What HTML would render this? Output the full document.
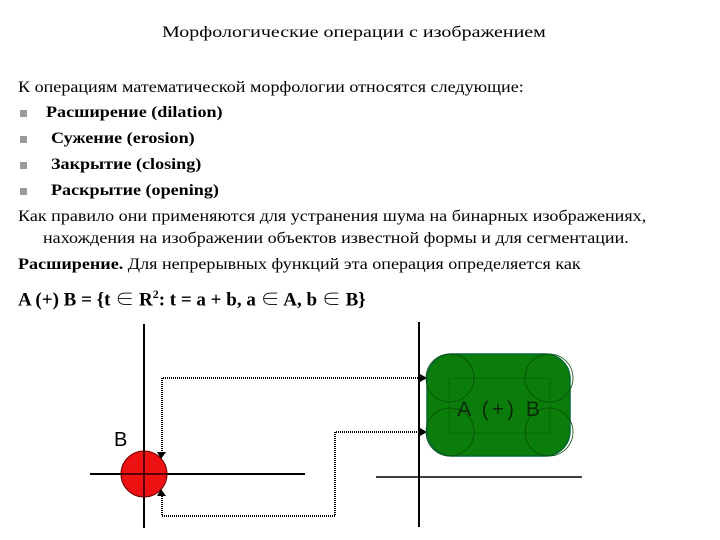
<!DOCTYPE html>
<html><head><meta charset="utf-8"><style>
body{margin:0;width:720px;height:540px;background:#fff;position:relative;overflow:hidden;font-family:"Liberation Serif","Noto Serif CJK SC",serif;color:#000}
.t{position:absolute;white-space:nowrap;font-size:16px;line-height:18px;transform:scaleX(1.13);transform-origin:0 0}
.b{font-weight:bold}
.sq{position:absolute;width:7px;height:7px;background:#9a9a9a}
</style></head><body>
<div class="t" style="left:162px;top:24px;transform:scaleX(1.25)">Морфологические операции с изображением</div>
<div class="t" style="left:18px;top:79px">К операциям математической морфологии относятся следующие:</div>
<div class="sq" style="left:20px;top:110px"></div><div class="t b" style="left:46px;top:104px">Расширение (dilation)</div>
<div class="sq" style="left:20px;top:136px"></div><div class="t b" style="left:51px;top:130px">Сужение (erosion)</div>
<div class="sq" style="left:20px;top:162px"></div><div class="t b" style="left:51px;top:156px">Закрытие (closing)</div>
<div class="sq" style="left:20px;top:188px"></div><div class="t b" style="left:51px;top:182px">Раскрытие (opening)</div>
<div class="t" style="left:18px;top:208px">Как правило они применяются для устранения шума на бинарных изображениях,</div>
<div class="t" style="left:43px;top:230px">нахождения на изображении объектов известной формы и для сегментации.</div>
<div class="t" style="left:18px;top:256px"><b>Расширение.</b> Для непрерывных функций эта операция определяется как</div>
<div class="t b" style="left:18px;top:283px;font-size:19px;line-height:22px;transform:none">A (+) B = {t ∈ R<sup style="font-size:12px">2</sup>: t = a + b, a ∈ A, b ∈ B}</div>
<svg width="720" height="540" style="position:absolute;left:0;top:0">
<g stroke="#000" fill="none">
<line x1="144" y1="324" x2="144" y2="528" stroke-width="2"/>
<line x1="90" y1="474" x2="305" y2="474" stroke-width="2"/>
<line x1="419" y1="322" x2="419" y2="527" stroke-width="2"/>
<line x1="376" y1="477" x2="582" y2="477" stroke-width="1.5"/>
</g>
<circle cx="144" cy="474" r="23" fill="#ee1111" stroke="#600" stroke-width="1"/>
<line x1="121" y1="474" x2="167" y2="474" stroke="#500" stroke-width="2"/>
<line x1="144" y1="451" x2="144" y2="497" stroke="#500" stroke-width="2"/>
<g stroke="#000" stroke-width="2" stroke-dasharray="1 1" fill="none">
<polyline points="162,455 162,378 420,378"/>
<polyline points="162,494 162,516 335,516 335,432 420,432"/>
</g>
<polygon points="157,452 166,452 161,459" fill="#000"/>
<polygon points="157,496 166,496 161,489" fill="#000"/>
<polygon points="420,374 427,378 420,382" fill="#000"/>
<polygon points="420,428 427,432 420,436" fill="#000"/>
<rect x="427" y="354" width="143" height="102" rx="25" fill="#0a7d0a" stroke="#063" stroke-width="1.5"/>
<g stroke="#064c06" fill="none" stroke-width="0.8">
<circle cx="450" cy="378" r="24"/><circle cx="549" cy="378" r="24"/>
<circle cx="450" cy="432" r="24"/><circle cx="549" cy="432" r="24"/>
<rect x="449" y="378" width="101" height="55" stroke-dasharray="1 1"/>
</g>
<text x="500" y="416" text-anchor="middle" font-family="Liberation Sans, sans-serif" font-size="21" letter-spacing="3" fill="#0a2a0a">A (+) B</text>
<text x="114" y="446" font-family="Liberation Sans, sans-serif" font-size="20" fill="#000">B</text>
</svg>
</body></html>
